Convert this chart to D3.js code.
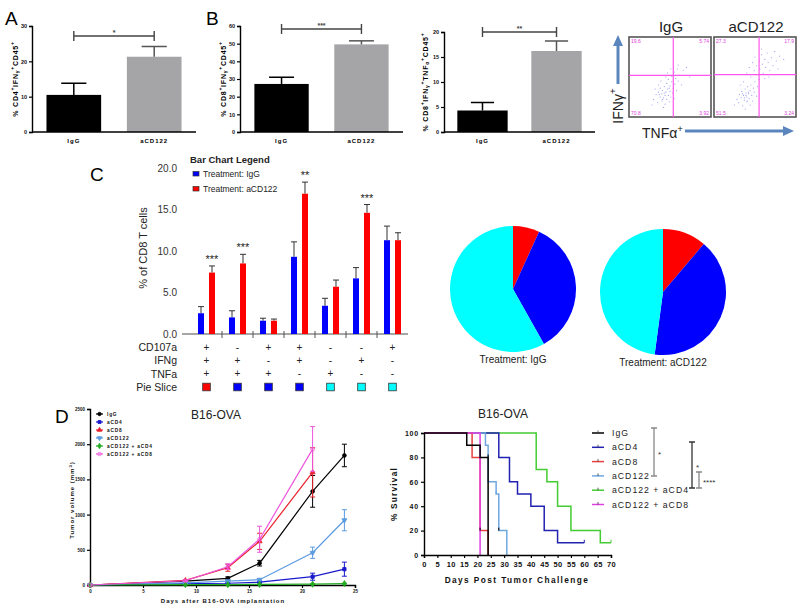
<!DOCTYPE html>
<html>
<head>
<meta charset="utf-8">
<script src="https://cdn.jsdelivr.net/npm/d3@7"></script>
<style>
  body { margin: 0; background: #fff; }
  svg { display: block; font-family: "Liberation Sans", Arial, Helvetica, sans-serif; }
</style>
</head>
<body>
<svg id="fig" width="800" height="610"></svg>
<script>
// ---------- data: panels A / B ----------
var groupsAB = ["IgG", "aCD122"];
var cd4IfngMean = [10.5, 21.3];
var cd4IfngErr = [3.3, 2.9];
var cd8IfngMean = [27.2, 49.6];
var cd8IfngErr = [3.8, 2.0];
var cd8TnfMean = [4.3, 16.2];
var cd8TnfErr = [1.6, 2.0];

// ---------- data: flow plots ----------
var quadIgG = ["19.6", "5.74", "70.8", "3.92"];
var quadCD122 = ["27.3", "17.9", "51.5", "3.24"];
var gateIgG = [54, 52];
var gateCD122 = [55, 53];
var dotsIgG = [[30,22],[33,28],[35,18],[36,31],[38,25],[38,36],[40,20],[40,29],[41,33],[42,24],[43,38],[44,27],
  [44,16],[45,31],[46,22],[46,42],[47,35],[48,27],[48,47],[49,19],[50,32],[50,39],[51,25],[52,44],[52,51],[53,30],
  [54,36],[55,56],[56,41],[57,48],[58,33],[59,60],[60,45],[62,52],[64,40],[66,58],[70,62],[74,50],[36,40],[42,12],
  [32,35],[55,23],[47,55],[60,65],[39,45],[45,50],[28,15],[51,60],[43,30],[41,22],[37,28],[49,36]];
var dotsCD122 = [[25,15],[28,22],[30,18],[31,28],[33,24],[34,32],[35,14],[36,27],[37,21],[38,35],[39,30],[40,25],
  [40,19],[41,38],[42,29],[43,23],[44,33],[45,40],[46,27],[47,20],[48,36],[49,31],[50,44],[52,26],[53,38],[55,47],
  [38,10],[44,15],[32,40],[36,44],[40,55],[43,62],[45,50],[47,68],[49,58],[50,75],[52,64],[54,53],[55,70],[56,60],
  [58,78],[59,66],[60,55],[62,72],[63,62],[65,80],[66,68],[68,58],[70,74],[72,64],[74,82],[76,70],[80,76],[85,72],
  [58,85],[67,50],[78,60],[62,48],[39,27],[37,24],[42,31],[35,29],[41,20]];

// ---------- data: panel C ----------
var treatments = ["IgG", "aCD122"];
var barIgG = [2.5, 2.0, 1.6, 9.3, 3.4, 6.7, 11.3];
var errIgG = [0.8, 0.8, 0.3, 1.8, 0.9, 1.3, 1.7];
var barCD122 = [7.4, 8.5, 1.6, 16.9, 5.7, 14.6, 11.3];
var errCD122 = [0.8, 1.1, 0.2, 1.4, 0.8, 1.0, 0.9];
var starsC = ["***", "***", "", "**", "", "***", ""];
var cd107a = ["+", "-", "+", "+", "-", "-", "+"];
var ifng = ["+", "+", "-", "+", "-", "+", "-"];
var tnfa = ["+", "+", "+", "-", "+", "-", "-"];
var pieSlice = ["red", "blue", "blue", "blue", "cyan", "cyan", "cyan"];
var sliceColor = { red: "#ff0000", blue: "#0000ff", cyan: "#00ffff" };

// ---------- data: panel D (tumor growth) ----------
var tumorNames = ["IgG", "aCD4", "aCD8", "aCD122", "aCD122 + aCD4", "aCD122 + aCD8"];
var tumorDays = [0, 9, 13, 16, 21, 24];
var volIgG = [0, 55, 95, 310, 1330, 1840];
var volIgGErr = [0, 10, 20, 40, 225, 160];
var volCD4 = [0, 20, 25, 40, 118, 225];
var volCD4Err = [0, 5, 8, 8, 50, 100];
var volCD8 = [0, 65, 245, 620, 1600, null];
var volCD8Err = [0, 10, 50, 115, 350, null];
var volCD122 = [0, 30, 55, 75, 458, 920];
var volCD122Err = [0, 8, 10, 15, 80, 150];
var volCD122CD4 = [0, 5, 5, 8, 12, 20];
var volCD122CD4Err = [0, 2, 2, 3, 4, 5];
var volCD122CD8 = [0, 60, 260, 650, 1930, null];
var volCD122CD8Err = [0, 10, 40, 185, 320, null];

// ---------- data: panel D (survival) ----------
var survIgG = [[0,100],[16,90],[21,80],[24,0]];
var survCD4 = [[0,100],[28,80],[32,60],[35,50],[40,40],[45,20],[50,10],[60,10]];
var survCD8 = [[0,100],[18,80],[21,20],[24,0]];
var survCD122 = [[0,100],[23,90],[24,60],[27,50],[28,20],[31,0]];
var survCD122CD4 = [[0,100],[42,70],[46,60],[50,40],[55,20],[66,10],[70,10]];
var survCD122CD8 = [[0,100],[21,0]];
var survCensored = [[27, 50, 3], [60, 10, 1], [70, 10, 4], [21, 20, 0], [28, 20, 0], [24, 80, 0]];

var svg = d3.select("#fig");

// draws text pieces with super (1) / sub (-1) script
function richText(sel, parts, fs) {
  var off = 0;
  parts.forEach(function(p) {
    var target = p[1] === 1 ? -0.4 * fs : (p[1] === -1 ? 0.25 * fs : 0);
    sel.append("tspan").attr("dy", target - off)
      .attr("font-size", p[1] ? fs * 0.7 : fs).text(p[0]);
    off = target;
  });
}

function styleAxis(g, fs) {
  g.attr("font-family", null).attr("font-size", fs).attr("font-weight", "bold");
  g.selectAll(".domain").attr("stroke", "#000").attr("stroke-width", 1.4);
  g.selectAll(".tick line").attr("stroke", "#000").attr("stroke-width", 1.2);
  g.selectAll(".tick text").attr("fill", "#111");
}

// ---------- Panels A / B : Prism style bars ----------
function prismBars(c) {
  var g = svg.append("g");
  var x = d3.scaleBand().domain(groupsAB).range([c.x0, c.x1]).paddingInner(0.32).paddingOuter(0.18);
  var y = d3.scaleLinear().domain([0, c.max]).range([132, c.top]);
  var bw = x.bandwidth();

  g.selectAll("rect").data(c.mean).join("rect")
    .attr("x", (d, i) => x(groupsAB[i]))
    .attr("y", d => y(d))
    .attr("width", bw)
    .attr("height", d => y(0) - y(d))
    .attr("fill", (d, i) => i ? "#a5a5a8" : "#000");

  c.mean.forEach(function(d, i) {
    var cx = x(groupsAB[i]) + bw / 2, top = y(d + c.err[i]);
    var col = i ? "#555" : "#000";
    g.append("line").attr("x1", cx).attr("x2", cx).attr("y1", y(d)).attr("y2", top)
      .attr("stroke", col).attr("stroke-width", 1.5);
    g.append("line").attr("x1", cx - bw * 0.23).attr("x2", cx + bw * 0.23).attr("y1", top).attr("y2", top)
      .attr("stroke", col).attr("stroke-width", 1.5);
  });

  var ya = g.append("g").attr("transform", `translate(${c.x0},0)`)
    .call(d3.axisLeft(y).tickValues(d3.range(0, c.max + 1, c.step)).tickSize(3).tickPadding(2));
  styleAxis(ya, 5.5);
  g.append("line").attr("x1", c.x0).attr("x2", c.x1).attr("y1", y(0)).attr("y2", y(0))
    .attr("stroke", "#000").attr("stroke-width", 1.5);

  g.selectAll("text.xl").data(groupsAB).join("text").attr("class", "xl")
    .attr("x", d => x(d) + bw / 2).attr("y", 143)
    .attr("text-anchor", "middle").attr("font-size", 6).attr("font-weight", "bold")
    .attr("letter-spacing", 1).text(d => d);

  // significance bracket
  var bx1 = x(groupsAB[0]) + bw / 2, bx2 = x(groupsAB[1]) + bw / 2;
  g.append("path").attr("d", `M${bx1},${c.by - 5}V${c.by + 5}M${bx1},${c.by}H${bx2}M${bx2},${c.by - 5}V${c.by + 5}`)
    .attr("stroke", "#444").attr("stroke-width", 1.4).attr("fill", "none");
  g.append("text").attr("x", (bx1 + bx2) / 2).attr("y", c.by - 1).attr("text-anchor", "middle")
    .attr("font-size", 7).attr("font-weight", "bold").attr("fill", "#444").text(c.stars);

  var lab = g.append("text")
    .attr("transform", `translate(${c.lx},${(132 + c.top) / 2}) rotate(-90)`)
    .attr("text-anchor", "middle").attr("font-weight", "bold").attr("letter-spacing", 0.8)
    .attr("dominant-baseline", "central");
  richText(lab, c.label, 7);
}

prismBars({ x0: 32, x1: 196, top: 26, max: 30, step: 10, mean: cd4IfngMean, err: cd4IfngErr,
  by: 36, stars: "*", lx: 15,
  label: [["% CD4", 0], ["+", 1], ["IFN", 0], ["γ", -1], ["+", 1], ["CD45", 0], ["+", 1]] });
prismBars({ x0: 240, x1: 403, top: 26, max: 60, step: 10, mean: cd8IfngMean, err: cd8IfngErr,
  by: 29, stars: "***", lx: 223,
  label: [["% CD8", 0], ["+", 1], ["IFN", 0], ["γ", -1], ["+", 1], ["CD45", 0], ["+", 1]] });
prismBars({ x0: 444, x1: 595, top: 32, max: 20, step: 5, mean: cd8TnfMean, err: cd8TnfErr,
  by: 32, stars: "**", lx: 425,
  label: [["% CD8", 0], ["+", 1], ["IFN", 0], ["γ", -1], ["+", 1], ["TNF", 0], ["α", -1], ["+", 1], ["CD45", 0], ["+", 1]] });

svg.append("text").attr("x", 5).attr("y", 25).attr("font-size", 19).text("A");
svg.append("text").attr("x", 206).attr("y", 25).attr("font-size", 19).text("B");

// ---------- flow plots ----------
function flowBox(bx, title, dots, gate, quad) {
  var w = 82, h = 80, by = 37;
  var sx = d3.scaleLinear().domain([0, 100]).range([bx, bx + w]);
  var sy = d3.scaleLinear().domain([0, 100]).range([by + h, by]);
  var g = svg.append("g");
  g.append("rect").attr("x", bx).attr("y", by).attr("width", w).attr("height", h)
    .attr("fill", "#fff").attr("stroke", "#555").attr("stroke-width", 1.6);
  g.selectAll("circle").data(dots).join("circle")
    .attr("cx", d => sx(d[0])).attr("cy", d => sy(d[1])).attr("r", 0.6)
    .attr("fill", "#7a7af0").attr("opacity", 0.7);
  g.append("line").attr("x1", sx(gate[0])).attr("x2", sx(gate[0])).attr("y1", by).attr("y2", by + h)
    .attr("stroke", "#ff55ee").attr("stroke-width", 1.2);
  g.append("line").attr("x1", bx).attr("x2", bx + w).attr("y1", sy(gate[1])).attr("y2", sy(gate[1]))
    .attr("stroke", "#ff55ee").attr("stroke-width", 1.2);
  var pos = [[bx + 2, by + 6, "start"], [bx + w - 2, by + 6, "end"], [bx + 2, by + h - 2, "start"], [bx + w - 2, by + h - 2, "end"]];
  quad.forEach(function(q, i) {
    g.append("text").attr("x", pos[i][0]).attr("y", pos[i][1]).attr("text-anchor", pos[i][2])
      .attr("font-size", 5).attr("fill", "#e040e0").text(q);
  });
  g.append("text").attr("x", bx + w / 2 + 1).attr("y", 32).attr("text-anchor", "middle")
    .attr("font-size", 15).attr("fill", "#222").text(title);
}
flowBox(629, "IgG", dotsIgG, gateIgG, quadIgG);
flowBox(714, "aCD122", dotsCD122, gateCD122, quadCD122);

var arrowCol = "#5a86bd";
svg.append("line").attr("x1", 618).attr("x2", 618).attr("y1", 84).attr("y2", 44)
  .attr("stroke", arrowCol).attr("stroke-width", 3);
svg.append("path").attr("d", "M618,35L623,46L613,46Z").attr("fill", arrowCol);
svg.append("line").attr("x1", 685).attr("x2", 784).attr("y1", 131).attr("y2", 131)
  .attr("stroke", arrowCol).attr("stroke-width", 3);
svg.append("path").attr("d", "M794,131L783,126L783,136Z").attr("fill", arrowCol);
var ifnLab = svg.append("text").attr("transform", "translate(618,106) rotate(-90)")
  .attr("text-anchor", "middle").attr("dominant-baseline", "central").attr("fill", "#222");
richText(ifnLab, [["IFNγ", 0], ["+", 1]], 14);
var tnfLab = svg.append("text").attr("x", 642).attr("y", 138).attr("fill", "#222");
richText(tnfLab, [["TNFα", 0], ["+", 1]], 14);

// ---------- Panel C ----------
svg.append("text").attr("x", 90).attr("y", 181).attr("font-size", 19).text("C");
var cY = d3.scaleLinear().domain([0, 20]).range([334, 168]);
var cX = d3.scaleBand().domain(d3.range(barIgG.length)).range([191, 408]);
var cInner = d3.scaleBand().domain(treatments).range([7, 24]).paddingInner(0.4545);
var cGroup = svg.append("g");

cGroup.append("line").attr("x1", 182).attr("x2", 408).attr("y1", cY(0)).attr("y2", cY(0))
  .attr("stroke", "#888").attr("stroke-width", 1.5);
cX.domain().slice(1).forEach(function(i) {
  cGroup.append("line").attr("x1", cX(i)).attr("x2", cX(i)).attr("y1", 331).attr("y2", 338)
    .attr("stroke", "#555").attr("stroke-width", 1);
});

[[barIgG, errIgG, "#0000ff"], [barCD122, errCD122, "#ff0000"]].forEach(function(s, k) {
  var t = treatments[k];
  s[0].forEach(function(v, i) {
    var x0 = cX(i) + cInner(t), cx = x0 + cInner.bandwidth() / 2, top = cY(v + s[1][i]);
    cGroup.append("line").attr("x1", cx).attr("x2", cx).attr("y1", cY(v)).attr("y2", top)
      .attr("stroke", "#333").attr("stroke-width", 1);
    cGroup.append("line").attr("x1", x0).attr("x2", x0 + cInner.bandwidth()).attr("y1", top).attr("y2", top)
      .attr("stroke", "#333").attr("stroke-width", 1);
    cGroup.append("rect").attr("x", x0).attr("y", cY(v)).attr("width", cInner.bandwidth())
      .attr("height", cY(0) - cY(v)).attr("fill", s[2]);
  });
});

starsC.forEach(function(s, i) {
  if (!s) return;
  var top = cY(barCD122[i] + errCD122[i]);
  cGroup.append("text").attr("x", cX(i) + cInner("aCD122") + cInner.bandwidth() / 2).attr("y", top - 3)
    .attr("text-anchor", "middle").attr("font-size", 11).attr("fill", "#222").text(s);
});

cGroup.selectAll("text.ct").data(cY.ticks(4)).join("text").attr("class", "ct")
  .attr("x", 177).attr("y", d => cY(d)).attr("text-anchor", "end").attr("dominant-baseline", "central")
  .attr("font-size", 10).attr("fill", "#333").text(d => d3.format(".1f")(d));

cGroup.append("text").attr("transform", "translate(143,248) rotate(-90)").attr("text-anchor", "middle")
  .attr("dominant-baseline", "central").attr("font-size", 11).attr("fill", "#222").text("% of CD8 T cells");

// legend
cGroup.append("text").attr("x", 190).attr("y", 163).attr("font-size", 9.5).attr("font-weight", "bold")
  .attr("fill", "#222").text("Bar Chart Legend");
[["Treatment: IgG", "#0000ff"], ["Treatment: aCD122", "#ff0000"]].forEach(function(l, i) {
  cGroup.append("rect").attr("x", 193).attr("y", 171.5 + i * 15).attr("width", 6).attr("height", 4.5)
    .attr("fill", l[1]).attr("stroke", "#333").attr("stroke-width", 0.7);
  cGroup.append("text").attr("x", 203).attr("y", 177 + i * 15).attr("font-size", 8.5)
    .attr("fill", "#222").text(l[0]);
});

// table under bars
var rows = [["CD107a", cd107a], ["IFNg", ifng], ["TNFa", tnfa]];
rows.forEach(function(r, k) {
  var yy = 347 + k * 13.4;
  cGroup.append("text").attr("x", 177).attr("y", yy).attr("text-anchor", "end")
    .attr("dominant-baseline", "central").attr("font-size", 10.5).attr("fill", "#222").text(r[0]);
  r[1].forEach(function(s, i) {
    cGroup.append("text").attr("x", cX(i) + cX.bandwidth() / 2).attr("y", yy)
      .attr("text-anchor", "middle").attr("dominant-baseline", "central")
      .attr("font-size", 10).attr("fill", "#222").text(s);
  });
});
cGroup.append("text").attr("x", 177).attr("y", 387).attr("text-anchor", "end")
  .attr("dominant-baseline", "central").attr("font-size", 10.5).attr("fill", "#222").text("Pie Slice");
pieSlice.forEach(function(p, i) {
  cGroup.append("rect").attr("x", cX(i) + cX.bandwidth() / 2 - 3.8).attr("y", 383.2)
    .attr("width", 7.6).attr("height", 7.6).attr("fill", sliceColor[p])
    .attr("stroke", "#333").attr("stroke-width", 0.8);
});

// pies: sums of the bar values by slice colour
var pie = d3.pie().sort(null).value(d => d[1]);
var arc = d3.arc().innerRadius(0).outerRadius(63);
[[barIgG, 513, 289, "Treatment: IgG", 363], [barCD122, 663, 292, "Treatment: aCD122", 366]].forEach(function(p) {
  var sums = Array.from(d3.rollup(p[0].map((v, i) => [pieSlice[i], v]), v => d3.sum(v, d => d[1]), d => d[0]));
  var pg = svg.append("g").attr("transform", `translate(${p[1]},${p[2]})`);
  pg.selectAll("path").data(pie(sums)).join("path").attr("d", arc)
    .attr("fill", d => sliceColor[d.data[0]]);
  svg.append("text").attr("x", p[1]).attr("y", p[4]).attr("text-anchor", "middle")
    .attr("font-size", 10).attr("fill", "#222").text(p[3]);
});

// ---------- Panel D left: tumor growth ----------
svg.append("text").attr("x", 55).attr("y", 423).attr("font-size", 19).text("D");
var dX = d3.scaleLinear().domain([0, 25]).range([90, 355]);
var dY = d3.scaleLinear().domain([0, 2500]).range([585, 409]);
var tumorCols = ["#000000", "#1a1acc", "#e8202a", "#5b9be0", "#22aa22", "#ee55dd"];
var tumorSyms = [d3.symbolCircle, d3.symbolSquare, d3.symbolTriangle, d3.symbolTriangle, d3.symbolDiamond, d3.symbolCircle];
var tumorSeries = [[volIgG, volIgGErr], [volCD4, volCD4Err], [volCD8, volCD8Err], [volCD122, volCD122Err],
  [volCD122CD4, volCD122CD4Err], [volCD122CD8, volCD122CD8Err]];
var dg = svg.append("g");
var dxa = dg.append("g").attr("transform", `translate(0,${dY(0)})`)
  .call(d3.axisBottom(dX).tickValues(d3.range(0, 26, 5)).tickSize(3).tickPadding(2));
styleAxis(dxa, 4.5);
var dya = dg.append("g").attr("transform", `translate(${dX(0)},0)`)
  .call(d3.axisLeft(dY).tickValues(d3.range(0, 2501, 500)).tickFormat(d3.format("d")).tickSize(3).tickPadding(2));
styleAxis(dya, 4.5);

var dLine = d3.line().defined(d => d[1] !== null).x(d => dX(d[0])).y(d => dY(d[1]));
tumorSeries.forEach(function(s, k) {
  var pts = tumorDays.map((d, i) => [d, s[0][i], s[1][i]]).filter(p => p[1] !== null);
  var col = tumorCols[k];
  dg.append("path").datum(pts).attr("d", dLine).attr("fill", "none").attr("stroke", col).attr("stroke-width", 1.2);
  pts.forEach(function(p) {
    if (p[2] > 0) {
      var cx = dX(p[0]);
      dg.append("path").attr("d", `M${cx - 2.5},${dY(p[1] + p[2])}H${cx + 2.5}M${cx},${dY(p[1] + p[2])}V${dY(p[1] - p[2])}M${cx - 2.5},${dY(p[1] - p[2])}H${cx + 2.5}`)
        .attr("stroke", col).attr("stroke-width", 1).attr("fill", "none");
    }
    dg.append("path").attr("d", d3.symbol().type(tumorSyms[k]).size(11))
      .attr("transform", `translate(${dX(p[0])},${dY(p[1])}) rotate(${k === 3 ? 180 : 0})`)
      .attr("fill", k === 5 ? "none" : col).attr("stroke", col).attr("stroke-width", 0.8);
  });
});

tumorNames.forEach(function(n, k) {
  var ly = 414 + k * 8;
  dg.append("line").attr("x1", 96).attr("x2", 103).attr("y1", ly).attr("y2", ly)
    .attr("stroke", tumorCols[k]).attr("stroke-width", 1.2);
  dg.append("path").attr("d", d3.symbol().type(tumorSyms[k]).size(9))
    .attr("transform", `translate(99.5,${ly}) rotate(${k === 3 ? 180 : 0})`)
    .attr("fill", k === 5 ? "none" : tumorCols[k]).attr("stroke", tumorCols[k]).attr("stroke-width", 0.8);
  dg.append("text").attr("x", 107).attr("y", ly).attr("dominant-baseline", "central")
    .attr("font-size", 4.8).attr("font-weight", "bold").attr("letter-spacing", 0.8).attr("fill", "#111").text(n);
});
dg.append("text").attr("x", 216).attr("y", 419).attr("text-anchor", "middle").attr("font-size", 12)
  .attr("fill", "#222").text("B16-OVA");
dg.append("text").attr("x", 223).attr("y", 603).attr("text-anchor", "middle").attr("font-size", 6)
  .attr("font-weight", "bold").attr("letter-spacing", 1).attr("fill", "#111").text("Days after B16-OVA implantation");
var tvLab = dg.append("text").attr("transform", "translate(72,500) rotate(-90)").attr("text-anchor", "middle")
  .attr("dominant-baseline", "central").attr("font-weight", "bold").attr("letter-spacing", 1).attr("fill", "#111");
richText(tvLab, [["Tumor volume (mm", 0], ["3", 1], [")", 0]], 6);

// ---------- Panel D right: survival ----------
var sX = d3.scaleLinear().domain([0, 70]).range([424, 611]);
var sY = d3.scaleLinear().domain([0, 100]).range([555, 433]);
var survCols = ["#000000", "#2222b0", "#e84040", "#6fa8e0", "#44cc33", "#e040e0"];
var survSeries = [survIgG, survCD4, survCD8, survCD122, survCD122CD4, survCD122CD8];
var sg = svg.append("g");
var sLine = d3.line().curve(d3.curveStepAfter).x(d => sX(d[0])).y(d => sY(d[1]));
// draw green first so that others sit on top
[4, 1, 3, 2, 5, 0].forEach(function(k) {
  sg.append("path").datum(survSeries[k]).attr("d", sLine).attr("fill", "none")
    .attr("stroke", survCols[k]).attr("stroke-width", 1.5);
});
survCensored.forEach(function(c) {
  sg.append("line").attr("x1", sX(c[0])).attr("x2", sX(c[0])).attr("y1", sY(c[1]) - 3).attr("y2", sY(c[1]))
    .attr("stroke", survCols[c[2]]).attr("stroke-width", 1);
});
var sxa = sg.append("g").attr("transform", `translate(0,${sY(0)})`)
  .call(d3.axisBottom(sX).tickValues(d3.range(0, 71, 5)).tickSize(3).tickPadding(4));
styleAxis(sxa, 7.5);
var sya = sg.append("g").attr("transform", `translate(${sX(0)},0)`)
  .call(d3.axisLeft(sY).tickValues(d3.range(0, 101, 20)).tickSize(3).tickPadding(2));
styleAxis(sya, 7);
sxa.selectAll(".tick text").attr("letter-spacing", 0.3);
sya.selectAll(".tick text").attr("letter-spacing", 0.8);

sg.append("text").attr("x", 503).attr("y", 418).attr("text-anchor", "middle").attr("font-size", 12)
  .attr("fill", "#222").text("B16-OVA");
sg.append("text").attr("x", 517).attr("y", 583).attr("text-anchor", "middle").attr("font-size", 8.3)
  .attr("font-weight", "bold").attr("letter-spacing", 1.4).attr("fill", "#111").text("Days Post Tumor Challenge");
sg.append("text").attr("transform", "translate(394,494) rotate(-90)").attr("text-anchor", "middle")
  .attr("dominant-baseline", "central").attr("font-size", 8.3).attr("font-weight", "bold")
  .attr("letter-spacing", 1.2).attr("fill", "#111").text("% Survival");

tumorNames.forEach(function(n, k) {
  var ly = 433 + k * 14.3;
  sg.append("line").attr("x1", 592).attr("x2", 604).attr("y1", ly).attr("y2", ly)
    .attr("stroke", survCols[k]).attr("stroke-width", 1.5);
  sg.append("line").attr("x1", 598).attr("x2", 598).attr("y1", ly - 2.5).attr("y2", ly)
    .attr("stroke", "#333").attr("stroke-width", 0.8);
  sg.append("text").attr("x", 612).attr("y", ly).attr("dominant-baseline", "central")
    .attr("font-size", 8.7).attr("letter-spacing", 1).attr("fill", "#222").text(n);
});

// comparison brackets
[[654, 428, 476, "*", "#888"], [692, 442, 488, "*", "#333"], [699, 472, 488, "****", "#888"]].forEach(function(b) {
  sg.append("path").attr("d", `M${b[0] - 3},${b[1]}H${b[0] + 3}M${b[0]},${b[1]}V${b[2]}M${b[0] - 3},${b[2]}H${b[0] + 3}`)
    .attr("stroke", b[4]).attr("stroke-width", 1.3).attr("fill", "none");
  sg.append("text").attr("x", b[0] + 4).attr("y", (b[1] + b[2]) / 2 + 5).attr("font-size", 8)
    .attr("fill", "#333").text(b[3]);
});
</script>
</body>
</html>
